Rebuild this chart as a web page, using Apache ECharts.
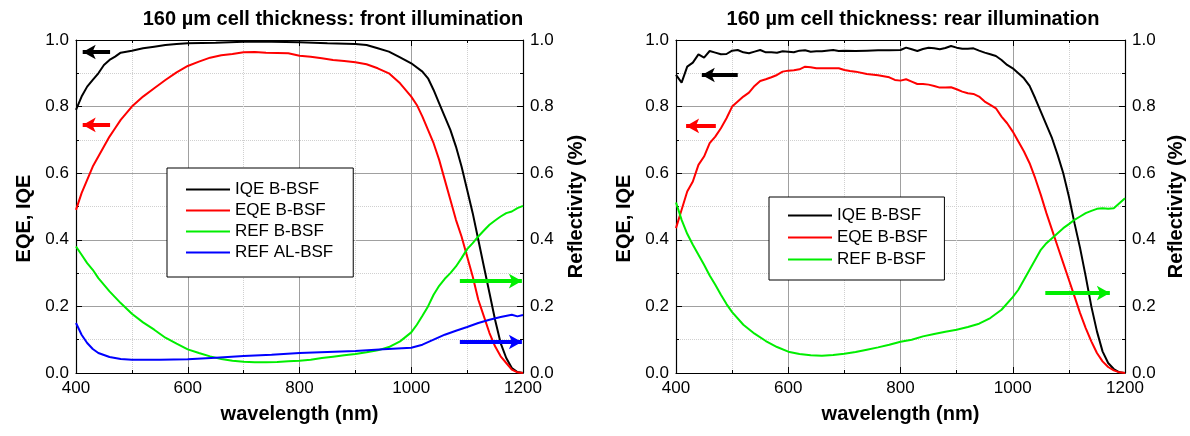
<!DOCTYPE html>
<html><head><meta charset="utf-8">
<script src="https://cdn.jsdelivr.net/npm/echarts@6/dist/echarts.min.js"></script>
<style>html,body{margin:0;padding:0;background:#fff}#c{width:1190px;height:436px}</style>
</head><body><div id="c"></div>
<script>
// ---------- data ----------
const titles = ['160 µm cell thickness: front illumination', '160 µm cell thickness: rear illumination'];
const xName = 'wavelength (nm)';
const yLeftName = 'EQE, IQE';
const yRightName = 'Reflectivity (%)';
const legendFront = ['IQE B-BSF', 'EQE B-BSF', 'REF B-BSF', 'REF AL-BSF'];
const legendRear = ['IQE B-BSF', 'EQE B-BSF', 'REF B-BSF'];

// front illumination
const iqeFront = [[400,0.79],[410,0.83],[420,0.86],[430,0.88],[440,0.90],[450,0.925],[460,0.94],[470,0.95],[480,0.962],[500,0.968],[520,0.975],[540,0.98],[560,0.985],[580,0.988],[600,0.99],[650,0.992],[700,0.995],[750,0.995],[800,0.993],[850,0.99],[900,0.988],[920,0.985],[940,0.975],[960,0.965],[980,0.948],[1000,0.93],[1020,0.905],[1030,0.885],[1040,0.85],[1050,0.81],[1060,0.77],[1070,0.73],[1080,0.68],[1090,0.62],[1100,0.55],[1110,0.48],[1120,0.40],[1130,0.32],[1140,0.24],[1150,0.16],[1160,0.09],[1170,0.045],[1180,0.015],[1190,0.003],[1200,0]];
const eqeFront = [[400,0.49],[410,0.54],[420,0.58],[430,0.62],[440,0.65],[450,0.68],[460,0.71],[470,0.735],[480,0.76],[500,0.80],[520,0.83],[540,0.855],[560,0.88],[580,0.903],[600,0.922],[620,0.935],[640,0.947],[660,0.954],[680,0.958],[700,0.963],[720,0.964],[740,0.962],[760,0.961],[780,0.96],[800,0.953],[820,0.95],[840,0.945],[860,0.94],[880,0.937],[900,0.933],[920,0.927],[940,0.915],[960,0.9],[980,0.87],[1000,0.83],[1010,0.805],[1020,0.77],[1030,0.73],[1040,0.69],[1050,0.64],[1060,0.58],[1070,0.52],[1080,0.46],[1090,0.41],[1100,0.35],[1110,0.29],[1120,0.22],[1130,0.17],[1140,0.12],[1150,0.08],[1160,0.05],[1170,0.03],[1180,0.01],[1190,0.002],[1200,0]];
const refBFront = [[400,0.38],[410,0.355],[420,0.33],[430,0.31],[440,0.285],[460,0.245],[480,0.21],[500,0.178],[520,0.152],[540,0.13],[560,0.106],[580,0.088],[600,0.071],[620,0.06],[640,0.05],[660,0.042],[680,0.037],[700,0.034],[720,0.032],[740,0.032],[760,0.033],[780,0.035],[800,0.037],[820,0.04],[840,0.045],[860,0.049],[880,0.053],[900,0.057],[920,0.062],[940,0.068],[960,0.078],[980,0.095],[1000,0.122],[1010,0.145],[1020,0.172],[1030,0.2],[1040,0.235],[1050,0.262],[1060,0.283],[1070,0.3],[1080,0.32],[1090,0.345],[1100,0.372],[1110,0.39],[1120,0.41],[1130,0.428],[1140,0.445],[1150,0.458],[1160,0.47],[1170,0.48],[1180,0.485],[1190,0.495],[1200,0.502]];
const refAlFront = [[400,0.15],[410,0.115],[420,0.09],[430,0.072],[440,0.06],[460,0.048],[480,0.042],[500,0.04],[550,0.04],[600,0.041],[650,0.046],[700,0.051],[750,0.055],[800,0.06],[850,0.063],[900,0.066],[950,0.071],[1000,0.076],[1020,0.085],[1040,0.1],[1060,0.115],[1080,0.127],[1100,0.138],[1120,0.15],[1140,0.16],[1160,0.168],[1180,0.175],[1190,0.17],[1200,0.174]];

// rear illumination
const iqeRear = [[400,0.895],[410,0.872],[420,0.92],[430,0.932],[440,0.957],[450,0.947],[460,0.967],[470,0.962],[480,0.957],[490,0.958],[500,0.968],[510,0.97],[520,0.963],[530,0.96],[540,0.965],[550,0.97],[560,0.963],[570,0.963],[580,0.962],[590,0.966],[600,0.965],[610,0.963],[620,0.968],[630,0.969],[640,0.965],[650,0.966],[660,0.966],[680,0.97],[690,0.967],[700,0.968],[720,0.967],[740,0.968],[760,0.969],[780,0.969],[800,0.97],[810,0.977],[820,0.972],[830,0.967],[840,0.973],[850,0.977],[860,0.975],[870,0.972],[880,0.976],[890,0.982],[900,0.977],[910,0.974],[920,0.974],[930,0.975],[940,0.968],[950,0.962],[960,0.957],[970,0.952],[980,0.94],[990,0.925],[1000,0.915],[1010,0.9],[1020,0.885],[1030,0.862],[1040,0.825],[1050,0.785],[1060,0.745],[1070,0.705],[1080,0.655],[1090,0.6],[1100,0.53],[1110,0.45],[1120,0.375],[1130,0.29],[1140,0.2],[1150,0.125],[1160,0.065],[1170,0.03],[1180,0.012],[1190,0.002],[1200,0]];
const eqeRear = [[400,0.435],[410,0.49],[420,0.545],[430,0.575],[440,0.625],[450,0.65],[460,0.69],[470,0.71],[480,0.735],[490,0.765],[500,0.8],[510,0.815],[520,0.83],[530,0.842],[540,0.862],[550,0.877],[560,0.882],[570,0.888],[580,0.895],[590,0.905],[600,0.908],[610,0.909],[620,0.912],[630,0.92],[640,0.918],[650,0.915],[660,0.915],[680,0.915],[690,0.915],[700,0.91],[710,0.907],[720,0.905],[740,0.898],[760,0.894],[780,0.888],[790,0.88],[800,0.878],[810,0.882],[820,0.875],[830,0.868],[840,0.868],[850,0.866],[860,0.862],[870,0.857],[880,0.857],[890,0.858],[900,0.852],[910,0.845],[920,0.84],[930,0.838],[940,0.83],[950,0.815],[960,0.805],[970,0.795],[980,0.77],[990,0.75],[1000,0.725],[1010,0.695],[1020,0.665],[1030,0.63],[1040,0.585],[1050,0.535],[1060,0.48],[1070,0.43],[1080,0.38],[1090,0.33],[1100,0.28],[1110,0.23],[1120,0.18],[1130,0.135],[1140,0.095],[1150,0.06],[1160,0.035],[1170,0.018],[1180,0.008],[1190,0.002],[1200,0]];
const refBRear = [[400,0.512],[410,0.46],[420,0.418],[430,0.385],[440,0.355],[450,0.325],[460,0.293],[470,0.265],[480,0.235],[490,0.207],[500,0.183],[520,0.145],[540,0.118],[560,0.096],[580,0.078],[600,0.064],[620,0.057],[640,0.053],[660,0.052],[680,0.054],[700,0.058],[720,0.063],[740,0.07],[760,0.077],[780,0.085],[800,0.094],[820,0.1],[840,0.11],[860,0.117],[880,0.124],[900,0.13],[920,0.138],[940,0.148],[960,0.165],[980,0.19],[1000,0.228],[1010,0.25],[1020,0.28],[1030,0.31],[1040,0.34],[1050,0.37],[1060,0.39],[1070,0.405],[1080,0.42],[1090,0.435],[1100,0.447],[1110,0.46],[1120,0.47],[1130,0.48],[1140,0.487],[1150,0.493],[1160,0.495],[1170,0.493],[1180,0.495],[1190,0.51],[1200,0.525]];

// indicator arrows (data coordinates: [from], [to])
const arrowsFront = {
  iqe: [[461,0.964],[412,0.964]],
  eqe: [[461,0.745],[412,0.745]],
  refB: [[1087,0.276],[1198,0.276]],
  refAl: [[1087,0.093],[1198,0.093]]
};
const arrowsRear = {
  iqe: [[510,0.895],[446,0.895]],
  eqe: [[471,0.742],[418,0.742]],
  refB: [[1058,0.24],[1173,0.24]]
};

const xMin = 400, xMax = 1200, xStep = 200;
const yMin = 0, yMax = 1, yStep = 0.2;

// ---------- chart ----------
const FONT = 'Liberation Sans, Arial, sans-serif';
const colors = {iqe:'#000000', eqe:'#ff0000', refB:'#00ee00', refAl:'#0000ff'};
const chart = echarts.init(document.getElementById('c'), null, {renderer:'canvas'});

const grids = [
  {left:76, top:40, width:447, height:333},
  {left:676, top:40, width:449, height:333}
];

function xAxes(gi){
  const base = {
    type:'value', gridIndex:gi, min:xMin, max:xMax, interval:xStep,
    axisLine:{show:true, onZero:false, lineStyle:{color:'#000', width:1.2}},
    axisTick:{show:true, inside:true, length:6, lineStyle:{color:'#000'}},
    minorTick:{show:true, splitNumber:2, length:3, lineStyle:{color:'#000'}},
  };
  return [
    Object.assign({}, base, {
      position:'bottom',
      axisLabel:{color:'#000', fontSize:17, fontFamily:FONT, margin:7, formatter:v=>String(v)},
      splitLine:{show:true, lineStyle:{color:'#a0a0a0', width:1}},
      minorSplitLine:{show:true, lineStyle:{color:'#d0d0d0', type:'dotted', width:1}},
      name:xName, nameLocation:'middle', nameGap:31,
      nameTextStyle:{color:'#000', fontSize:20, fontWeight:'bold', fontFamily:FONT}
    }),
    Object.assign({}, base, {
      position:'top', axisLabel:{show:false}, splitLine:{show:false}, minorSplitLine:{show:false}
    })
  ];
}
function yAxes(gi, lgap, rgap){
  const base = {
    type:'value', gridIndex:gi, min:yMin, max:yMax, interval:yStep,
    axisLine:{show:true, onZero:false, lineStyle:{color:'#000', width:1.2}},
    axisTick:{show:true, inside:true, length:6, lineStyle:{color:'#000'}},
    minorTick:{show:true, splitNumber:2, length:3, lineStyle:{color:'#000'}},
    axisLabel:{color:'#000', fontSize:17, fontFamily:FONT, margin:7, formatter:v=>v.toFixed(1)},
    nameLocation:'middle', nameRotate:90
  };
  return [
    Object.assign({}, base, {
      position:'left', name:yLeftName, nameGap:lgap,
      nameTextStyle:{color:'#000', fontSize:20, fontWeight:'bold', fontFamily:FONT, padding:[0,24,0,0]},
      splitLine:{show:true, lineStyle:{color:'#a0a0a0', width:1}},
      minorSplitLine:{show:true, lineStyle:{color:'#d0d0d0', type:'dotted', width:1}}
    }),
    Object.assign({}, base, {
      position:'right', name:yRightName, nameGap:rgap,
      nameTextStyle:{color:'#000', fontSize:20, fontWeight:'bold', fontFamily:FONT},
      splitLine:{show:false}, minorSplitLine:{show:false}
    })
  ];
}

function arrowMark(seg, color){
  return {
    silent:true, symbol:['none','arrow'], symbolSize:[11,13],
    label:{show:false}, emphasis:{disabled:true},
    lineStyle:{color:color, width:4, type:'solid'},
    data:[[{coord:seg[0]},{coord:seg[1]}]]
  };
}
function line(name, data, color, xi, yi, arrow){
  return {
    type:'line', name:name, data:data, xAxisIndex:xi, yAxisIndex:yi,
    symbol:'none', smooth:false, lineStyle:{color:color, width:2}, itemStyle:{color:color},
    animation:false, markLine: arrowMark(arrow, color), z:3
  };
}

const legendBase = {
  orient:'vertical', icon:'path://M0,0H44V2H0Z', itemWidth:44, itemHeight:3, itemGap:4,
  borderColor:'#000', borderWidth:1, backgroundColor:'#fff',
  textStyle:{color:'#000', fontSize:17, fontFamily:FONT, padding:[0,0,0,0], lineHeight:17},
  selectedMode:false
};

const option = {
  animation:false,
  backgroundColor:'#fff',
  title:[
    {text:titles[0], left:328, top:4, textAlign:'center', textStyle:{fontSize:20, fontWeight:'bold', color:'#000', fontFamily:FONT}},
    {text:titles[1], left:908, top:4, textAlign:'center', textStyle:{fontSize:20, fontWeight:'bold', color:'#000', fontFamily:FONT}}
  ],
  grid:grids,
  xAxis:[...xAxes(0), ...xAxes(1)],
  yAxis:[...yAxes(0,42,43), ...yAxes(1,42,41)],
  legend:[
    Object.assign({}, legendBase, {data:legendFront, left:167, top:168, padding:[13,20,16,19]}),
  ],
  series:[
    line(legendFront[0], iqeFront, colors.iqe, 0, 0, arrowsFront.iqe),
    line(legendFront[1], eqeFront, colors.eqe, 0, 0, arrowsFront.eqe),
    line(legendFront[2], refBFront, colors.refB, 0, 1, arrowsFront.refB),
    line(legendFront[3], refAlFront, colors.refAl, 0, 1, arrowsFront.refAl),
    line(legendRear[0]+' ', iqeRear, colors.iqe, 2, 2, arrowsRear.iqe),
    line(legendRear[1]+' ', eqeRear, colors.eqe, 2, 2, arrowsRear.eqe),
    line(legendRear[2]+' ', refBRear, colors.refB, 2, 3, arrowsRear.refB)
  ]
};
option.legend.push(Object.assign({}, legendBase, {
  data:legendRear.map(n=>n+' '), left:769, top:197, itemGap:5, padding:[10,12,12,19]
}));
chart.setOption(option);
</script>
</body></html>
